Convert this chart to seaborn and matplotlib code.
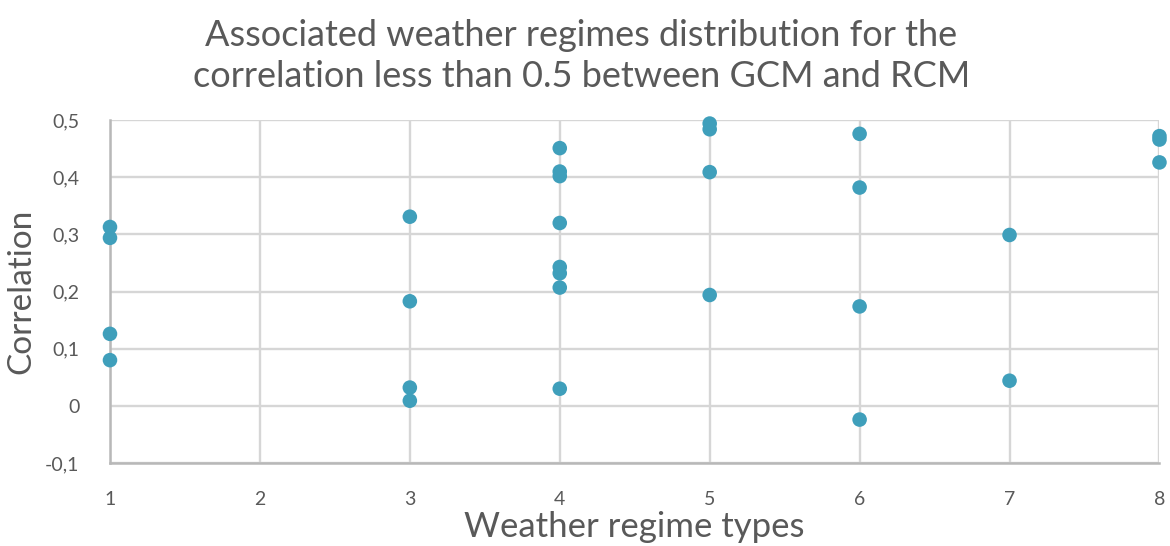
import numpy as np
import pandas as pd
import seaborn as sns
import matplotlib.pyplot as plt
from matplotlib.ticker import FuncFormatter

# ─── data ────────────────────────────────────────────────────────────────
regime_1 = [0.313, 0.294, 0.126, 0.080]
regime_3 = [0.331, 0.183, 0.032, 0.009]
regime_4 = [0.451, 0.410, 0.402, 0.320, 0.243, 0.232, 0.207, 0.030]
regime_5 = [0.494, 0.484, 0.409, 0.194]
regime_6 = [0.476, 0.382, 0.174, -0.024]
regime_7 = [0.299, 0.044]
regime_8 = [0.472, 0.466, 0.426]

groups = {1: regime_1, 3: regime_3, 4: regime_4, 5: regime_5,
          6: regime_6, 7: regime_7, 8: regime_8}
df = pd.DataFrame(
    [(k, v) for k, vals in groups.items() for v in vals],
    columns=["regime", "corr"],
)

x_ticks = [1, 2, 3, 4, 5, 6, 7, 8]
y_ticks = [-0.1, 0, 0.1, 0.2, 0.3, 0.4, 0.5]

TEXT = "#595959"
DOT = "#3f9fbb"

sns.set_style("white")
plt.rcParams["font.family"] = ["Lato", "DejaVu Sans"]

fig = plt.figure(figsize=(11.7, 5.46), dpi=100)
ax = fig.add_axes([0.094, 0.152, 0.897, 0.628])

sns.scatterplot(data=df, x="regime", y="corr", color=DOT, s=110,
                edgecolor="none", ax=ax, zorder=3, clip_on=False)

ax.set_xlim(1, 8)
ax.set_ylim(-0.1, 0.5)
ax.set_xticks(x_ticks)
ax.set_yticks(y_ticks)
ax.yaxis.set_major_formatter(
    FuncFormatter(lambda v, _: "0" if abs(v) < 1e-9 else f"{v:.1f}".replace(".", ",")))
ax.xaxis.set_major_formatter(FuncFormatter(lambda v, _: f"{int(v)}"))

ax.grid(True, color="#d6d6d6", linewidth=1.7)
ax.set_axisbelow(True)
for side in ["top", "right"]:
    ax.spines[side].set_visible(False)
for side in ["left", "bottom"]:
    ax.spines[side].set_color("#b8b8b8")
    ax.spines[side].set_linewidth(1.8)

ax.tick_params(axis="both", length=0, labelsize=14, labelcolor=TEXT)
ax.tick_params(axis="y", pad=22)
ax.tick_params(axis="x", pad=20)

ax.set_xlabel("Weather regime types", fontsize=25, color=TEXT, labelpad=2)
ax.set_ylabel("Correlation", fontsize=24, color=TEXT, labelpad=6)

fig.text(0.497, 0.898,
         "Associated weather regimes distribution for the\n"
         "correlation less than 0.5 between GCM and RCM",
         ha="center", va="center", fontsize=26, color=TEXT, linespacing=1.3)

fig.savefig("out.png", dpi=100)
